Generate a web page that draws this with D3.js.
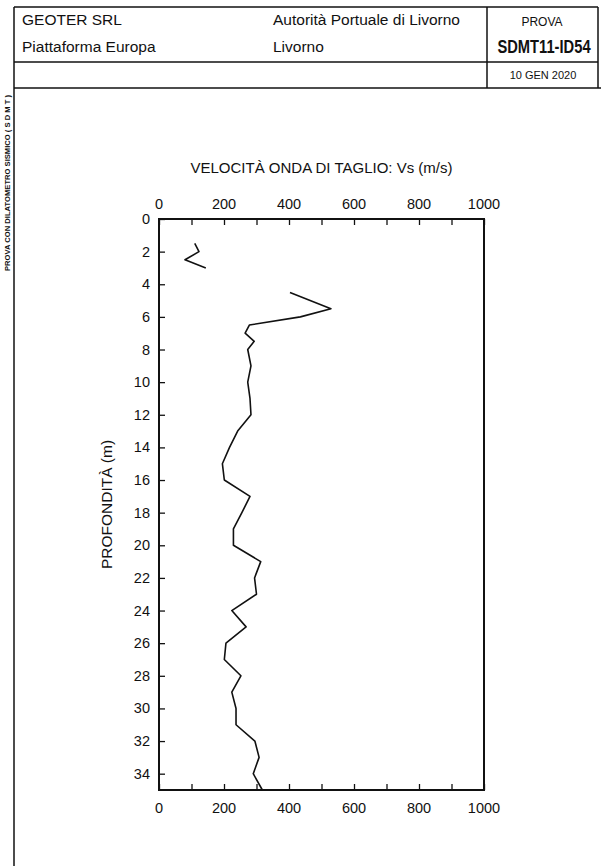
<!DOCTYPE html>
<html lang="it">
<head>
  <meta charset="utf-8">
  <title>SDMT11-ID54 - Vs</title>
  <script src="https://cdn.jsdelivr.net/npm/d3@7"></script>
  <style>
    body { margin: 0; background: #fff; font-family: "Liberation Sans", Arial, sans-serif; }
    svg text { fill: #111; }
  </style>
</head>
<body>
<div id="chart"></div>
<script>

// Vs profile (depth in m, Vs in m/s); null = no reading
const depth = [1.5, 2.0, 2.5, 3.0, 4.0, 4.5, 5.5, 6.0, 6.5, 7.0, 7.5, 8.0, 9.0, 10.0, 11.0, 12.0,
               13.0, 14.0, 15.0, 16.0, 17.0, 18.0, 19.0, 20.0, 21.0, 22.0, 23.0, 24.0, 25.0,
               26.0, 27.0, 28.0, 29.0, 30.0, 31.0, 32.0, 33.0, 34.0, 35.0];
const vs    = [110, 123, 80, 144, null, 403, 529, 435, 278, 265, 293, 273, 283, 273, 280, 283,
               242, 217, 195, 201, 280, 255, 229, 229, 313, 294, 300, 224, 268,
               206, 201, 252, 224, 237, 237, 295, 308, 290, 318];

const xTicksLabel = [0, 200, 400, 600, 800, 1000];
const yTicksLabel = d3.range(0, 35, 2);   // 0 .. 34

const W = 601, H = 866;
const plot = { left: 159, right: 484, top: 219, bottom: 790 };

const svg = d3.select("#chart").append("svg")
    .attr("width", W)
    .attr("height", H);

// ---- header block ----
const ink = "#111";
const frame = svg.append("g").attr("stroke", ink).attr("stroke-width", 1.5).attr("fill", "none");
frame.append("line").attr("x1", 14).attr("y1", 7).attr("x2", 598).attr("y2", 7);
frame.append("line").attr("x1", 14).attr("y1", 7).attr("x2", 14).attr("y2", H);
frame.append("line").attr("x1", 598).attr("y1", 7).attr("x2", 598).attr("y2", 88);
frame.append("line").attr("x1", 487).attr("y1", 7).attr("x2", 487).attr("y2", 88);
frame.append("line").attr("x1", 14).attr("y1", 62).attr("x2", 598).attr("y2", 62);
frame.append("line").attr("x1", 14).attr("y1", 88).attr("x2", W).attr("y2", 88);

const head = svg.append("g").attr("font-size", 15.5);
head.append("text").attr("x", 22).attr("y", 25).text("GEOTER SRL");
head.append("text").attr("x", 22).attr("y", 52).text("Piattaforma Europa");
head.append("text").attr("x", 273).attr("y", 25).text("Autorità Portuale di Livorno");
head.append("text").attr("x", 273).attr("y", 52).text("Livorno");
head.append("text").attr("x", 542).attr("y", 26).attr("text-anchor", "middle")
    .attr("font-size", 12).text("PROVA");
// condensed bold test id: squeeze horizontally so it stays inside its cell
head.append("text")
    .attr("transform", "translate(544,53) scale(0.84,1)")
    .attr("text-anchor", "middle")
    .attr("font-size", 17.5).attr("font-weight", "bold")
    .text("SDMT11-ID54");
head.append("text").attr("x", 543).attr("y", 79).attr("text-anchor", "middle")
    .attr("font-size", 11).text("10 GEN 2020");

// side caption
svg.append("text")
    .attr("transform", "translate(10,183) rotate(-90)")
    .attr("text-anchor", "middle")
    .attr("font-size", 7).attr("font-weight", "bold")
    .attr("textLength", 176).attr("lengthAdjust", "spacingAndGlyphs")
    .text("PROVA CON DILATOMETRO SISMICO ( S D M T )");

// ---- chart ----
const x = d3.scaleLinear().domain([0, 1000]).range([plot.left, plot.right]);
const y = d3.scaleLinear().domain([0, 35]).range([plot.top, plot.bottom]);

const axTop = svg.append("g")
    .attr("transform", `translate(0,${plot.top})`)
    .call(d3.axisTop(x).tickValues(d3.range(0, 1001, 100)).tickSize(-6).tickFormat(""));
const axBottom = svg.append("g")
    .attr("transform", `translate(0,${plot.bottom})`)
    .call(d3.axisBottom(x).tickValues(d3.range(0, 1001, 100)).tickSize(-6).tickFormat(""));
const axLeft = svg.append("g")
    .attr("transform", `translate(${plot.left},0)`)
    .call(d3.axisLeft(y).tickValues(yTicksLabel).tickSize(-6).tickFormat(""));
[axTop, axBottom, axLeft].forEach(g => {
  g.select(".domain").remove();
  g.selectAll(".tick line").attr("stroke", ink).attr("stroke-width", 1.3);
});

// frame around the plot
svg.append("rect")
    .attr("x", plot.left).attr("y", plot.top)
    .attr("width", plot.right - plot.left).attr("height", plot.bottom - plot.top)
    .attr("fill", "none").attr("stroke", ink).attr("stroke-width", 2);

// tick labels
const lab = svg.append("g").attr("font-size", 14.5).attr("text-anchor", "middle");
lab.selectAll("text.top").data(xTicksLabel).enter().append("text")
    .attr("class", "top")
    .attr("x", d => x(d)).attr("y", plot.top - 10)
    .text(d => d);
lab.selectAll("text.bot").data(xTicksLabel).enter().append("text")
    .attr("class", "bot")
    .attr("x", d => x(d)).attr("y", plot.bottom + 23)
    .text(d => d);
lab.selectAll("text.left").data(yTicksLabel).enter().append("text")
    .attr("class", "left")
    .attr("x", plot.left - 9).attr("y", d => y(d) + 5)
    .attr("text-anchor", "end")
    .text(d => d);

// titles
svg.append("text")
    .attr("x", (plot.left + plot.right) / 2).attr("y", 173)
    .attr("text-anchor", "middle").attr("font-size", 15)
    .text("VELOCITÀ ONDA DI TAGLIO: Vs (m/s)");
svg.append("text")
    .attr("transform", `translate(112,${(plot.top + plot.bottom) / 2}) rotate(-90)`)
    .attr("text-anchor", "middle").attr("font-size", 15.5)
    .text("PROFONDITÀ (m)");

// Vs line
const points = depth.map((d, i) => ({ d: d, v: vs[i] }));
const line = d3.line()
    .defined(p => p.v !== null)
    .x(p => x(p.v))
    .y(p => y(p.d));

svg.append("path")
    .datum(points)
    .attr("fill", "none")
    .attr("stroke", ink)
    .attr("stroke-width", 1.6)
    .attr("stroke-linejoin", "round")
    .attr("d", line);

</script>
</body>
</html>
